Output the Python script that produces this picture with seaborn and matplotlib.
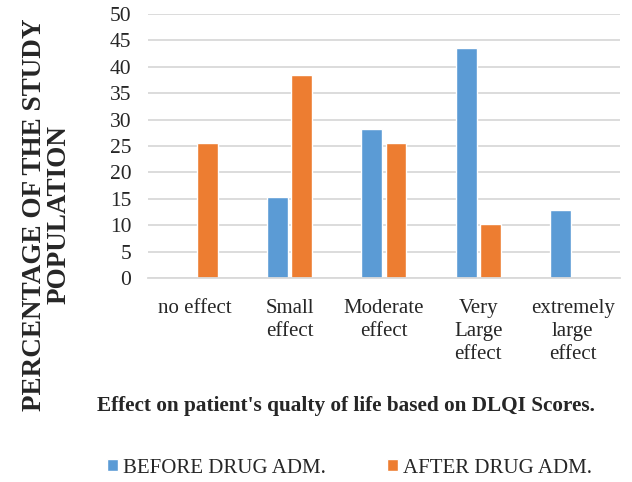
import matplotlib
matplotlib.use("Agg")
import matplotlib.pyplot as plt
import seaborn as sns
import pandas as pd
from matplotlib.patches import Patch

categories = ["no effect", "Small\neffect", "Moderate\neffect", "Very\nLarge\neffect", "extremely\nlarge\neffect"]
before = [0, 15.4, 28.2, 43.6, 12.8]
after = [25.6, 38.5, 25.6, 10.3, 0]
series = ["BEFORE DRUG ADM.", "AFTER DRUG ADM."]
colors = ["#5B9BD5", "#ED7D31"]
yticks = [0, 5, 10, 15, 20, 25, 30, 35, 40, 45, 50]

df = pd.DataFrame({
    "cat": categories * 2,
    "val": before + after,
    "series": [series[0]] * len(categories) + [series[1]] * len(categories),
})

sns.set_style("white")
plt.rcParams["font.family"] = ["Liberation Serif", "DejaVu Serif"]

fig = plt.figure(figsize=(6.32, 4.82), dpi=100)
ax = fig.add_axes([0.234, 0.423, 0.747, 0.548])
sns.barplot(data=df, x="cat", y="val", hue="series", palette=colors,
            width=0.51, gap=0.13, ax=ax, legend=False, saturation=1)

ax.set_ylim(0, 50)
ax.set_xlim(-0.5, 4.5)
ax.set_yticks(yticks)
ax.set_yticklabels([str(v) for v in yticks], fontsize=15.5)
ax.tick_params(axis="x", labelsize=15, length=0, pad=15)
ax.tick_params(axis="y", length=0, pad=12)
for lab in ax.get_xticklabels():
    lab.set_linespacing(1.3)
ax.yaxis.grid(True, color="#d9d9d9", linewidth=1.3)
ax.set_axisbelow(True)
for s in ["top", "right", "left"]:
    ax.spines[s].set_visible(False)
ax.spines["bottom"].set_color("#d9d9d9")
ax.spines["bottom"].set_linewidth(1.3)

ax.set_xlabel("")
ax.set_ylabel("")
fig.text(0.074, 0.554, "PERCENTAGE OF THE STUDY\nPOPULATION", rotation=90,
         ha="center", va="center", fontsize=19.5, fontweight="bold", linespacing=0.93)
fig.text(0.548, 0.157, "Effect on patient's qualty of life based on DLQI Scores.",
         ha="center", va="center", fontsize=15.3, fontweight="bold")

handles = [Patch(facecolor=c) for c in colors]
fig.legend(handles, series, loc="center", bbox_to_anchor=(0.553, 0.029), ncol=2,
           frameon=False, fontsize=15, handlelength=0.53, handleheight=0.53,
           handletextpad=0.24, columnspacing=2.9, borderpad=0, borderaxespad=0)

fig.savefig("out.png", dpi=100)
